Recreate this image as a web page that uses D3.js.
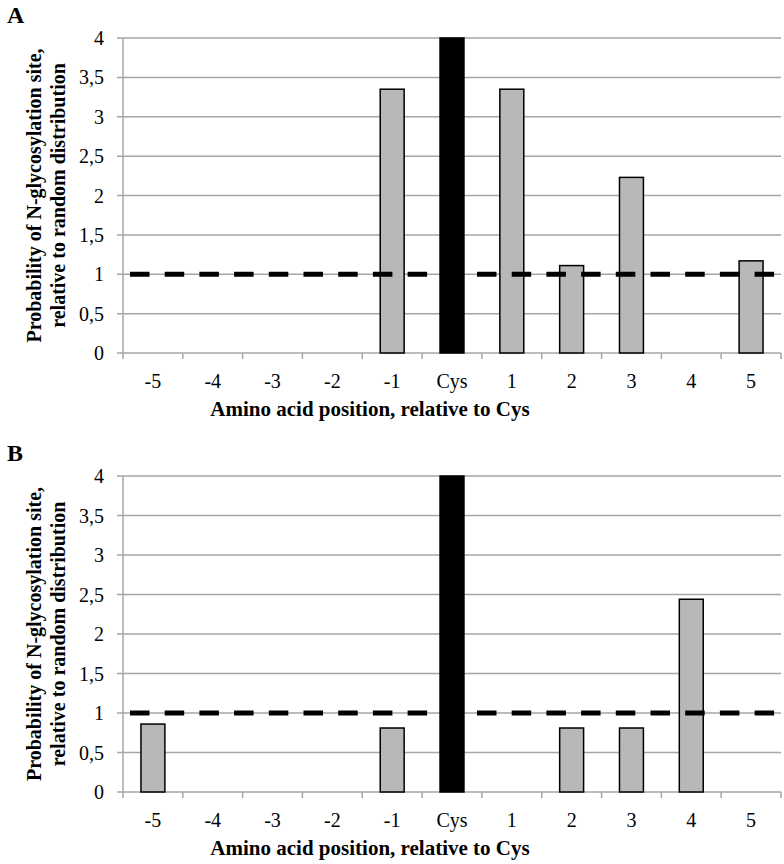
<!DOCTYPE html>
<html><head><meta charset="utf-8">
<script src="https://cdn.jsdelivr.net/npm/d3@7"></script>
<style>body{margin:0;background:#fff}</style>
</head><body>
<script>
const categories = ["-5","-4","-3","-2","-1","Cys","1","2","3","4","5"];
const valuesA = [0,0,0,0,3.35,4,3.35,1.11,2.23,0,1.17];
const valuesB = [0.86,0,0,0,0.81,4,0,0.81,0.81,2.44,0];
const yTicks = [0,0.5,1,1.5,2,2.5,3,3.5,4];
const reference = 1;
const panels = [{label:"A", values:valuesA, top:38, bottom:353},
                {label:"B", values:valuesB, top:476, bottom:792}];

const W=784,H=864;
const svg = d3.select("body").append("svg").attr("width",W).attr("height",H);
const font = "'Liberation Serif','Times New Roman',serif";
const left=123, right=781;
const x = d3.scaleBand().domain(categories).range([left,right]).paddingInner(0.6).paddingOuter(0.3);
const xb = d3.scaleBand().domain(categories).range([left,right]);

panels.forEach((p,pi)=>{
  const g = svg.append("g");
  const y = d3.scaleLinear().domain([0,4]).range([p.bottom,p.top]);
  g.selectAll(".grid").data(yTicks).join("line")
    .attr("x1",left-6).attr("x2",right).attr("y1",d=>y(d)).attr("y2",d=>y(d))
    .attr("stroke","#a6a6a6").attr("stroke-width",1.5);
  g.append("line").attr("x1",left).attr("x2",left).attr("y1",p.top).attr("y2",p.bottom)
    .attr("stroke","#a6a6a6").attr("stroke-width",1.5);
  g.selectAll(".yl").data(yTicks).join("text")
    .attr("x",left-19).attr("y",d=>y(d)).attr("dy","0.35em")
    .attr("text-anchor","end").attr("font-family",font).attr("font-size",20)
    .text(d=>String(d).replace(".",","));
  const bounds = categories.map(c=>xb(c)).concat([right]);
  g.selectAll(".xt").data(bounds).join("line")
    .attr("x1",d=>d).attr("x2",d=>d).attr("y1",p.bottom).attr("y2",p.bottom+6)
    .attr("stroke","#a6a6a6").attr("stroke-width",1.5);
  g.selectAll(".bar").data(categories.map((c,i)=>({c,v:p.values[i]})).filter(d=>d.v>0)).join("rect")
    .attr("x",d=>x(d.c)).attr("width",x.bandwidth())
    .attr("y",d=>y(d.v)).attr("height",d=>y(0)-y(d.v))
    .attr("fill",d=>d.c==="Cys"?"#000":"#b8b8b8")
    .attr("stroke","#000").attr("stroke-width",1.5);
  g.append("line").attr("x1",130).attr("x2",775).attr("y1",y(reference)).attr("y2",y(reference))
    .attr("stroke","#000").attr("stroke-width",5).attr("stroke-dasharray","19.5,15.2");
  g.selectAll(".xl").data(categories).join("text")
    .attr("x",d=>xb(d)+xb.bandwidth()/2).attr("y",p.bottom+35)
    .attr("text-anchor","middle").attr("font-family",font).attr("font-size",20)
    .text(d=>d);
  g.append("text").attr("x",370).attr("y",p.bottom+63)
    .attr("text-anchor","middle").attr("font-family",font).attr("font-size",21).attr("font-weight","bold")
    .text("Amino acid position, relative to Cys");
  const cy=(p.top+p.bottom)/2;
  const t = g.append("text").attr("transform",`translate(41,${cy}) rotate(-90)`)
    .attr("text-anchor","middle").attr("font-family",font).attr("font-size",20).attr("font-weight","bold");
  t.append("tspan").attr("x",0).attr("y",0).text("Probability of N-glycosylation site,");
  t.append("tspan").attr("x",0).attr("y",24).text("relative to random distribution");
  g.append("text").attr("x",7).attr("y",p.top-15).attr("font-family",font).attr("font-size",24)
    .attr("font-weight","bold").text(p.label);
});
</script>
</body></html>
